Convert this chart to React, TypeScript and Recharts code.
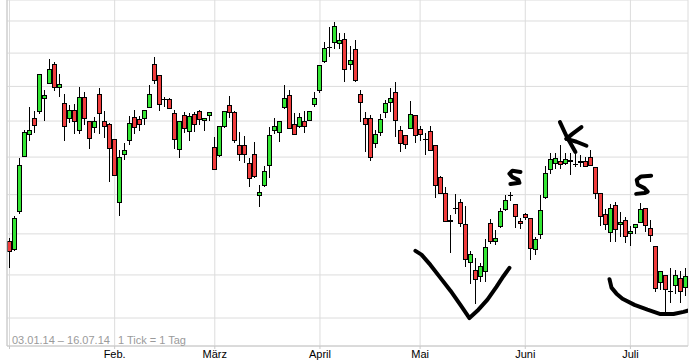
import React from 'react';
import { ComposedChart, Bar, Scatter, XAxis, YAxis, CartesianGrid } from 'recharts';

// daily prices, 03.01.14 - 16.07.14 (136 trading days)
const opens = [
  21.82, 21.62, 22.58, 24.02, 24.63, 25.08, 25.28, 25.66, 26.09, 26.66, 25.97, 25.51, 25.08, 25.31, 24.74, 25.70, 24.99, 24.83, 25.77, 24.99,
  24.91, 24.49, 22.80, 24.08, 24.47, 25.11, 25.06, 25.10, 25.41, 26.66, 26.33, 25.64, 25.63, 25.22, 24.22, 25.16, 24.71, 25.19, 25.28, 25.02,
  25.16, 24.27, 24.05, 24.85, 25.45, 25.25, 24.33, 24.33, 23.83, 24.08, 22.98, 23.25, 23.78, 24.74, 24.69, 25.40, 25.74, 24.91, 24.85, 24.99,
  25.02, 25.48, 25.89, 26.75, 27.20, 27.34, 27.31, 27.43, 26.68, 27.12, 25.78, 25.08, 25.08, 24.38, 24.69, 25.25, 25.54, 25.83, 24.74, 24.60,
  24.80, 25.16, 24.77, 24.49, 24.71, 24.33, 23.46, 23.03, 22.34, 22.65, 22.80, 22.24, 21.32, 21.11, 20.97, 21.09, 22.27, 21.82, 22.19, 22.63,
  22.98, 22.75, 22.32, 22.50, 22.40, 21.62, 21.99, 22.93, 23.67, 23.83, 23.90, 23.83, 23.88, 23.80, 23.88, 23.90, 23.99, 23.73, 23.03, 22.49,
  22.04, 22.73, 22.26, 22.35, 22.02, 22.17, 22.30, 22.65, 22.14, 21.70, 20.83, 20.99, 20.61, 20.76, 20.92, 20.71,
];
const highs = [
  21.89, 22.44, 23.98, 24.75, 25.41, 25.29, 26.36, 25.90, 26.82, 26.73, 26.37, 25.78, 25.46, 25.48, 25.97, 25.85, 24.99, 25.12, 25.95, 25.28,
  24.95, 24.49, 24.18, 24.38, 25.14, 25.32, 25.14, 25.31, 26.04, 26.89, 26.33, 25.70, 25.67, 25.31, 24.99, 25.26, 25.22, 25.25, 25.31, 25.08,
  25.26, 24.55, 24.85, 25.28, 25.71, 25.29, 24.70, 24.57, 23.97, 24.42, 23.26, 23.75, 24.83, 25.08, 24.99, 26.03, 25.90, 25.22, 25.22, 25.28,
  25.28, 25.83, 26.63, 27.34, 27.80, 27.96, 27.62, 27.62, 27.22, 27.41, 25.90, 25.26, 25.17, 24.75, 25.20, 25.61, 25.95, 26.12, 24.85, 24.60,
  25.57, 25.16, 24.85, 24.66, 24.85, 24.33, 23.49, 23.19, 22.47, 23.01, 22.88, 22.70, 21.58, 21.40, 21.28, 21.87, 22.37, 22.09, 22.65, 22.98,
  23.06, 22.75, 22.40, 22.52, 22.40, 21.92, 22.98, 23.75, 24.12, 24.12, 24.34, 24.12, 24.12, 24.09, 24.06, 24.01, 24.18, 23.73, 23.03, 22.62,
  22.76, 22.80, 22.56, 22.42, 22.20, 22.24, 22.78, 22.65, 22.34, 21.70, 21.09, 20.99, 21.16, 21.11, 21.09, 21.16,
];
const lows = [
  21.16, 21.57, 22.49, 24.02, 24.43, 24.65, 25.19, 25.01, 26.09, 25.88, 25.68, 24.43, 24.94, 24.63, 24.63, 24.89, 24.22, 24.66, 24.63, 24.52,
  23.33, 23.48, 22.44, 23.92, 24.34, 24.63, 24.73, 24.90, 25.38, 26.08, 25.29, 25.40, 25.37, 24.22, 23.97, 24.67, 24.45, 24.69, 24.89, 24.73,
  25.01, 23.67, 23.99, 24.80, 25.08, 24.38, 23.90, 23.83, 23.19, 23.43, 22.69, 23.21, 23.43, 24.63, 24.41, 25.34, 24.80, 24.63, 24.80, 24.66,
  24.99, 25.40, 25.80, 26.69, 26.89, 27.12, 27.12, 26.12, 26.49, 26.12, 24.98, 24.15, 23.88, 24.26, 24.57, 25.08, 25.27, 24.54, 24.15, 24.23,
  24.80, 24.38, 24.45, 24.07, 24.19, 22.91, 23.03, 22.32, 21.54, 22.50, 22.18, 21.19, 20.78, 20.32, 20.83, 20.83, 21.75, 21.72, 22.14, 22.58,
  22.83, 22.14, 22.12, 22.35, 21.36, 21.48, 21.87, 22.88, 23.54, 23.67, 23.67, 23.78, 23.51, 23.74, 23.72, 23.72, 23.78, 22.88, 22.20, 22.10,
  21.80, 21.80, 21.93, 21.77, 21.70, 21.99, 22.30, 22.04, 21.80, 20.60, 20.64, 20.06, 20.34, 20.55, 20.34, 20.50,
];
const closes = [
  21.58, 22.40, 23.78, 24.69, 24.75, 24.90, 26.36, 25.74, 26.51, 25.97, 26.06, 24.85, 25.31, 24.99, 25.68, 25.08, 24.52, 24.99, 25.22, 24.85,
  24.24, 23.51, 23.99, 24.20, 24.94, 24.83, 24.93, 25.31, 25.77, 26.18, 25.48, 25.62, 25.37, 24.49, 24.99, 24.80, 25.14, 24.93, 25.05, 25.08,
  25.26, 23.67, 24.85, 25.28, 25.25, 24.48, 24.09, 24.08, 23.43, 23.49, 23.06, 23.62, 24.60, 24.85, 24.99, 25.66, 24.80, 24.63, 25.11, 24.85,
  25.28, 25.66, 26.63, 27.15, 27.19, 27.83, 27.40, 26.51, 26.78, 26.18, 25.54, 24.91, 23.99, 24.63, 25.05, 25.51, 25.66, 25.02, 24.38, 24.35,
  25.19, 24.60, 24.63, 24.50, 24.19, 23.25, 23.03, 22.32, 22.33, 22.66, 22.27, 21.39, 21.50, 20.90, 21.21, 21.67, 21.82, 21.89, 22.58, 22.85,
  22.99, 22.45, 22.27, 22.42, 21.65, 21.87, 22.60, 23.57, 23.96, 23.98, 23.80, 23.96, 23.93, 23.81, 23.87, 23.77, 23.78, 23.03, 22.46, 22.25,
  22.65, 22.12, 22.30, 21.94, 22.07, 22.24, 22.63, 22.22, 21.97, 20.69, 21.09, 20.67, 20.62, 20.99, 20.61, 20.97,
];

const monthTicks = [0, 21, 41, 62, 82, 103, 124];
const monthLabels = ['', 'Feb.', 'März', 'April', 'Mai', 'Juni', 'Juli'];
const gridPrices = [20, 21, 22, 23, 24, 25, 26, 27, 28];

// hand-drawn marks on the picture, as [trading day, price]
const vStroke = [[81.07, 21.58], [82.27, 21.49], [84.06, 21.24], [86.06, 20.93], [88.06, 20.63], [90.05, 20.3],
  [91.85, 20.0], [93.65, 20.19], [95.45, 20.42], [97.24, 20.72], [98.64, 20.97], [99.84, 21.17]];
const cupStroke = [[119.82, 20.9], [120.22, 20.7], [121.22, 20.56], [122.41, 20.44], [124.81, 20.3], [127.4, 20.19],
  [130.0, 20.09], [132.6, 20.09], [134.6, 20.14], [136.2, 20.19]];
const kStem = [[109.93, 24.97], [111.22, 24.58], [113.02, 24.14]];
const kUpper = [[114.22, 24.83], [112.42, 24.64], [111.22, 24.5]];
const kLower = [[111.22, 24.5], [113.22, 24.42], [115.22, 24.31]];
const sFirst = [[102.04, 23.6], [100.44, 23.63], [99.84, 23.55], [100.44, 23.46], [101.63, 23.39], [101.84, 23.31], [100.04, 23.28]];
const sSecond = [[128.14, 23.5], [126.14, 23.48], [125.26, 23.39], [125.46, 23.26], [126.8, 23.17], [127.46, 23.08], [126.8, 23.04], [125.14, 23.02]];

const candles = opens.map((o, i) => ({ i, o, h: highs[i], l: lows[i], c: closes[i], range: [lows[i], highs[i]] }));

const marks = [vStroke, cupStroke, kStem, kUpper, kLower, sFirst, sSecond];

const FONT = '"Liberation Sans", Arial, sans-serif';
const GREEN = '#33e633';
const RED = '#f03c3c';

const Candle = (props: any) => {
  const { x, y, width, height, payload } = props;
  if (x == null || y == null || !payload) return null;
  const { o, h, l, c } = payload;
  const span = Math.log(h) - Math.log(l);
  const toY = (v: number) => (span > 0 ? y + (height * (Math.log(h) - Math.log(v))) / span : y);
  const cx = Math.floor(x + width / 2) + 0.5;
  const top = Math.round(toY(Math.max(o, c))) + 0.5;
  const bottom = Math.round(toY(Math.min(o, c))) + 0.5;
  return (
    <g>
      <line x1={cx} x2={cx} y1={Math.round(y)} y2={Math.round(y + height)} stroke="#000" strokeWidth={1} />
      {bottom - top < 1 ? (
        <line x1={cx - 2.5} x2={cx + 2.5} y1={top} y2={top} stroke="#000" strokeWidth={1} />
      ) : (
        <rect x={cx - 2} y={top} width={4} height={bottom - top} fill={c >= o ? GREEN : RED} stroke="#000" strokeWidth={1} />
      )}
    </g>
  );
};

export default function App() {
  return (
    <div style={{ position: 'relative', width: 692, height: 364, background: '#fff' }}>
      <style>{'body{margin:0}'}</style>
      <ComposedChart width={692} height={364} data={candles} margin={{ top: 0, right: 4, bottom: 0, left: 0 }}>
        <CartesianGrid stroke="#dcdcdc" />
        <XAxis
          dataKey="i"
          ticks={monthTicks}
          interval={0}
          tickFormatter={(v) => monthLabels[monthTicks.indexOf(Number(v))] ?? ''}
          height={18}
          tickSize={3}
          tickMargin={1}
          axisLine={{ stroke: '#c8c8c8' }}
          tickLine={{ stroke: '#c8c8c8' }}
          tick={{ fill: '#000', fontSize: 11, fontFamily: FONT }}
        />
        <XAxis xAxisId="n" type="number" dataKey="x" domain={[-0.5, 135.5]} allowDataOverflow hide />
        <YAxis
          type="number"
          scale="log"
          domain={[19.376, 28.674]}
          allowDataOverflow
          ticks={gridPrices}
          interval={0}
          width={7}
          tick={() => <g />}
          tickLine={false}
          axisLine={{ stroke: '#c8c8c8' }}
        />
        <YAxis yAxisId="r" orientation="right" width={0} tick={false} tickLine={false} axisLine={{ stroke: '#c8c8c8' }} />
        <Bar dataKey="range" shape={(p: any) => <Candle {...p} />} isAnimationActive={false} />
        {marks.map((pts, k) => (
          <Scatter
            key={k}
            xAxisId="n"
            dataKey="y"
            data={pts.map(([px, py]) => ({ x: px, y: py }))}
            fill="#000"
            line={{ stroke: '#000', strokeWidth: 4, strokeLinecap: 'round', strokeLinejoin: 'round' }}
            shape={() => <g />}
            isAnimationActive={false}
          />
        ))}
      </ComposedChart>
      <svg width={692} height={364} style={{ position: 'absolute', left: 0, top: 0, pointerEvents: 'none' }}>
        <text x={12} y={344} fontSize={11} fontFamily={FONT} fill="#9a9a9a">03.01.14 – 16.07.14</text>
        <text x={118} y={344} fontSize={11} fontFamily={FONT} fill="#9a9a9a">1 Tick = 1 Tag</text>
      </svg>
    </div>
  );
}
